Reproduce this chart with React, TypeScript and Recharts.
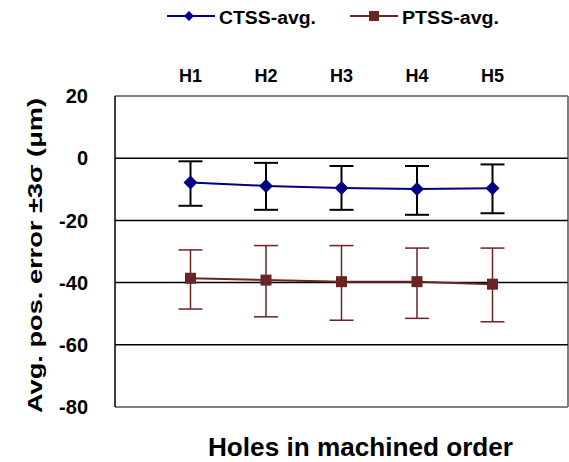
import {
  LineChart,
  Line,
  XAxis,
  YAxis,
  ErrorBar,
  ReferenceLine,
} from "recharts";

const holes = ["H1", "H2", "H3", "H4", "H5"];
const yTicks = [20, 0, -20, -40, -60, -80];

const ctssAvg = [-7.8, -8.9, -9.6, -9.9, -9.7];
const ctssUpper = [-1.0, -1.5, -2.5, -2.5, -2.0];
const ctssLower = [-15.3, -16.6, -16.6, -18.2, -17.7];

const ptssAvg = [-38.6, -39.2, -39.7, -39.7, -40.5];
const ptssUpper = [-29.5, -28.1, -28.1, -28.9, -28.9];
const ptssLower = [-48.5, -51.0, -52.1, -51.5, -52.6];

const data = holes.map((h, i) => ({
  x: i + 1,
  hole: h,
  ctss: ctssAvg[i],
  ctssErr: [ctssAvg[i] - ctssLower[i], ctssUpper[i] - ctssAvg[i]],
  ptss: ptssAvg[i],
  ptssErr: [ptssAvg[i] - ptssLower[i], ptssUpper[i] - ptssAvg[i]],
}));

const CTSS_COLOR = "#000080";
const PTSS_COLOR = "#6b2424";
const FONT = "'Liberation Sans', Arial, sans-serif";

const Diamond = (props: any) => {
  const { cx, cy } = props;
  if (cx == null || cy == null) return null;
  const r = 7;
  return (
    <path
      d={`M${cx},${cy - r}L${cx + r},${cy}L${cx},${cy + r}L${cx - r},${cy}Z`}
      fill={CTSS_COLOR}
    />
  );
};

const Square = (props: any) => {
  const { cx, cy } = props;
  if (cx == null || cy == null) return null;
  const s = 11;
  return <rect x={cx - s / 2} y={cy - s / 2} width={s} height={s} fill={PTSS_COLOR} />;
};

export default function App() {
  return (
    <div style={{ position: "absolute", left: 0, top: 0 }}>
      <LineChart
        width={569}
        height={462}
        data={data}
        margin={{ top: 66, right: 1, bottom: 55, left: 55 }}
      >
        <XAxis
          dataKey="x"
          type="number"
          domain={[0, 6]}
          ticks={[1, 2, 3, 4, 5]}
          orientation="top"
          height={30}
          tickLine={false}
          axisLine={false}
          tickMargin={8}
          tickFormatter={(v: number) => holes[v - 1]}
          tick={{ fill: "#000", fontSize: 18, fontWeight: "bold", fontFamily: FONT }}
        />
        <YAxis
          domain={[-80, 20]}
          ticks={yTicks}
          width={60}
          tickLine={false}
          axisLine={{ stroke: "#000", strokeWidth: 1.5 }}
          tickMargin={21}
          tick={{ fill: "#000", fontSize: 20, fontWeight: "bold", fontFamily: FONT }}
        />
        <ReferenceLine y={20} stroke="#808080" strokeWidth={2} />
        <ReferenceLine y={-80} stroke="#808080" strokeWidth={2} />
        <ReferenceLine x={6} stroke="#808080" strokeWidth={2} />
        {[0, -20, -40, -60].map((v) => (
          <ReferenceLine key={v} y={v} stroke="#000" strokeWidth={1.5} />
        ))}
        <Line
          dataKey="ptss"
          stroke={PTSS_COLOR}
          strokeWidth={2}
          dot={<Square />}
          activeDot={false}
          isAnimationActive={false}
        >
          <ErrorBar dataKey="ptssErr" width={12} stroke={PTSS_COLOR} strokeWidth={1.5} direction="y" />
        </Line>
        <Line
          dataKey="ctss"
          stroke={CTSS_COLOR}
          strokeWidth={2}
          dot={<Diamond />}
          activeDot={false}
          isAnimationActive={false}
        >
          <ErrorBar dataKey="ctssErr" width={12} stroke="#000" strokeWidth={2} direction="y" />
        </Line>
        <g fontFamily={FONT} fontWeight="bold" fill="#000">
          <line x1={167} y1={16} x2={215} y2={16} stroke={CTSS_COLOR} strokeWidth={2} />
          <path d="M189,11L194,16L189,21L184,16Z" fill={CTSS_COLOR} />
          <text x={219} y={24} fontSize={18} textLength={97} lengthAdjust="spacingAndGlyphs">
            CTSS-avg.
          </text>
          <line x1={350} y1={16} x2={398} y2={16} stroke={PTSS_COLOR} strokeWidth={2} />
          <rect x={369} y={11} width={10} height={10} fill={PTSS_COLOR} />
          <text x={402} y={24} fontSize={18} textLength={97} lengthAdjust="spacingAndGlyphs">
            PTSS-avg.
          </text>
          <text
            x={42}
            y={255.5}
            transform="rotate(-90, 42, 255.5)"
            textAnchor="middle"
            fontSize={20}
            textLength={315}
            lengthAdjust="spacingAndGlyphs"
          >
            Avg. pos. error ±3σ (μm)
          </text>
          <text
            x={360.5}
            y={456}
            textAnchor="middle"
            fontSize={25}
            textLength={305}
            lengthAdjust="spacingAndGlyphs"
          >
            Holes in machined order
          </text>
        </g>
      </LineChart>
    </div>
  );
}
